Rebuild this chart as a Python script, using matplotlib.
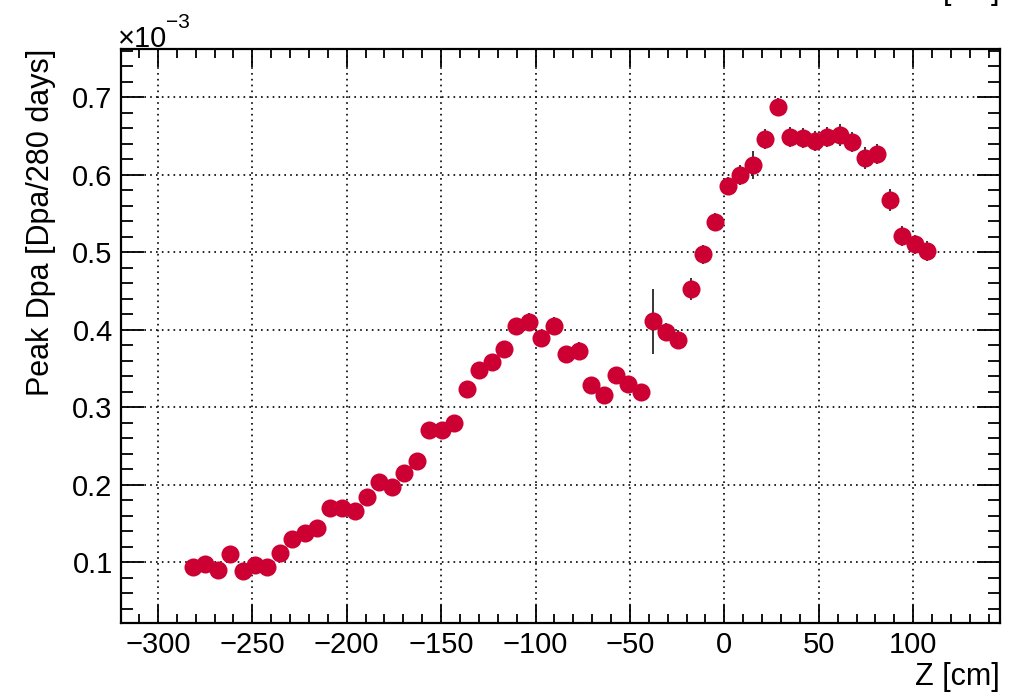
import numpy as np
import matplotlib
matplotlib.use("Agg")
import matplotlib.pyplot as plt
from matplotlib.ticker import MultipleLocator, FormatStrFormatter

plt.rcParams['font.family'] = ['Liberation Sans', 'DejaVu Sans']
plt.rcParams['mathtext.fontset'] = 'custom'
plt.rcParams['mathtext.rm'] = 'Liberation Sans'
plt.rcParams['mathtext.it'] = 'Liberation Sans'

# bin centres [cm]
z = [-281.5, -274.9, -268.3, -261.7, -255.1, -248.6, -242.0, -235.4, -228.8, -222.2,
     -215.6, -209.0, -202.4, -195.8, -189.2, -182.7, -176.1, -169.5, -162.9, -156.3,
     -149.7, -143.1, -136.5, -129.9, -123.3, -116.8, -110.2, -103.6, -97.0, -90.4,
     -83.8, -77.2, -70.6, -64.0, -57.4, -50.9, -44.3, -37.7, -31.1, -24.5,
     -17.9, -11.3, -4.7, 1.9, 8.5, 15.0, 21.6, 28.2, 34.8, 41.4,
     48.0, 54.6, 61.2, 67.8, 74.4, 80.9, 87.5, 94.1, 100.7, 107.3]

# peak dpa, units of 1e-3
dpa = [0.094, 0.098, 0.090, 0.110, 0.088, 0.096, 0.094, 0.112, 0.130, 0.137,
       0.144, 0.170, 0.170, 0.166, 0.184, 0.204, 0.197, 0.215, 0.231, 0.270,
       0.270, 0.279, 0.323, 0.348, 0.358, 0.375, 0.404, 0.410, 0.389, 0.405,
       0.368, 0.373, 0.328, 0.316, 0.342, 0.330, 0.320, 0.411, 0.397, 0.387,
       0.452, 0.497, 0.539, 0.585, 0.599, 0.612, 0.646, 0.687, 0.648, 0.647,
       0.643, 0.648, 0.651, 0.642, 0.621, 0.626, 0.567, 0.521, 0.510, 0.501]

err = [0.004, 0.004, 0.004, 0.005, 0.004, 0.005, 0.005, 0.005, 0.006, 0.006,
       0.006, 0.007, 0.007, 0.007, 0.007, 0.008, 0.008, 0.008, 0.008, 0.009,
       0.009, 0.009, 0.010, 0.010, 0.010, 0.010, 0.011, 0.011, 0.011, 0.011,
       0.010, 0.011, 0.010, 0.010, 0.010, 0.010, 0.010, 0.042, 0.012, 0.012,
       0.014, 0.012, 0.012, 0.012, 0.013, 0.018, 0.013, 0.012, 0.013, 0.013,
       0.013, 0.013, 0.014, 0.013, 0.014, 0.013, 0.014, 0.013, 0.012, 0.013]

fig = plt.figure(figsize=(10.26, 6.97), dpi=100)
ax = fig.add_axes([0.118, 0.1062, 0.8567, 0.8235])

ax.errorbar(z, dpa, yerr=err, fmt='none', ecolor='black', elinewidth=1.1, capsize=0, zorder=2)
ax.plot(z, dpa, 'o', color='#CC0033', markersize=13, markeredgewidth=0, zorder=3)

ax.set_xlim(-319.5, 146)
ax.set_ylim(0.0215, 0.762)

ax.xaxis.set_major_locator(MultipleLocator(50))
ax.xaxis.set_minor_locator(MultipleLocator(10))
ax.yaxis.set_major_locator(MultipleLocator(0.1))
ax.yaxis.set_minor_locator(MultipleLocator(0.02))
ax.yaxis.set_major_formatter(FormatStrFormatter('%.1f'))

ax.grid(True, which='major', color='black', linestyle=(0, (1, 2.5)), linewidth=1.2)
ax.set_axisbelow(True)

for s in ax.spines.values():
    s.set_linewidth(1.6)

ax.tick_params(axis='both', which='both', direction='in', top=True, right=True,
               labelsize=21, colors='black')
ax.tick_params(axis='y', which='major', length=16.5, width=1.3, pad=6)
ax.tick_params(axis='y', which='minor', length=8.5, width=1.3)
ax.tick_params(axis='x', which='major', length=13, width=1.3, pad=6)
ax.tick_params(axis='x', which='minor', length=6.5, width=1.3)

ax.set_xlabel('Z [cm]', fontsize=22, loc='right', labelpad=2)
ax.set_ylabel('Peak Dpa [Dpa/280 days]', fontsize=22, loc='top', labelpad=12)

fig.text(0.115, 0.933, '\u00d710', fontsize=21, ha='left', va='baseline')
fig.text(0.162, 0.96, '\u22123', fontsize=15, ha='left', va='baseline')
fig.text(0.975, 1.002, '[cm]', fontsize=22, ha='right', va='baseline')

fig.savefig('out.png', dpi=100)
